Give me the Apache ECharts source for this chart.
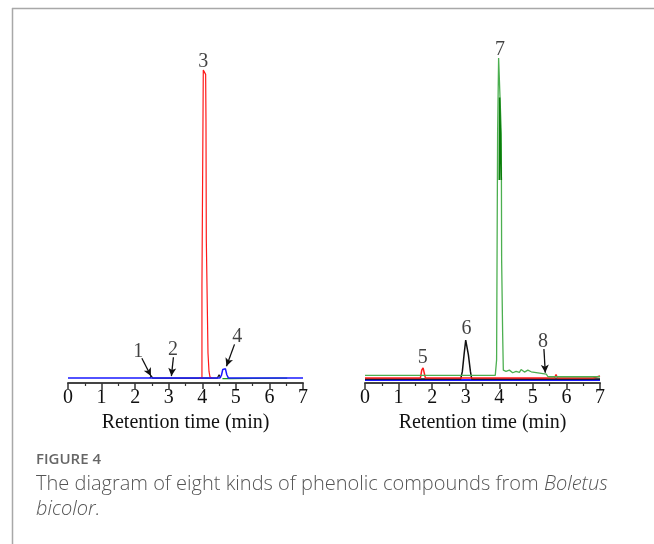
<!DOCTYPE html>
<html>
<head>
<meta charset="utf-8">
<script src="https://cdn.jsdelivr.net/npm/echarts@6/dist/echarts.min.js"></script>
<style>
  html, body { margin: 0; padding: 0; background: #fff; }
  #chart { width: 654px; height: 544px; }
</style>
</head>
<body>
<div id="chart"></div>
<script>
// x ticks (min)
const xTicks = [0, 1, 2, 3, 4, 5, 6, 7];

// left panel traces [time, signal]
const leftBlue = [[0, 0], [4.52, 0], [4.57, 0.8], [4.61, 2.6], [4.65, 3.1], [4.69, 2.8], [4.73, 1], [4.78, 0], [7, 0]];
const leftRed = [[3.9, 0], [3.99, 0], [3.99, 28.2], [4.02, 28.2], [4.03, 93.3], [4.1, 92], [4.11, 78], [4.12, 78], [4.12, 41.8], [4.16, 41.8], [4.17, 7.6], [4.2, 2], [4.23, 0.3], [4.3, 0]];
const leftBlack = [[2.44, 0], [2.48, 0.7], [2.52, 0], [3.05, 0], [3.08, 0.6], [3.11, 0], [4.45, 0], [4.5, 1], [4.55, 0]];
const leftGreen = [[4.6, -0.2], [4.82, -0.2], [6.28, 0], [6.31, 0.6], [6.34, 0], [6.47, 0], [6.5, 0.5], [6.53, 0]];

// right panel traces
const rightBlue = [[0, -0.6], [7, -0.6]];
const rightBlack = [[0, -0.3], [2.85, -0.3], [2.9, 2], [2.95, 7], [3.0, 11.5], [3.03, 11.5], [3.08, 7], [3.14, 2], [3.18, -0.3], [7, -0.3]];
const rightRed = [[0, 0], [1.65, 0], [1.69, 2.4], [1.73, 3.1], [1.77, 2.5], [1.8, 0], [5.65, 0], [5.69, 1.1], [5.73, 0], [6.8, 0], [6.85, 0.6], [7, 0.6]];
const rightGreen = [[0, 0.8], [3.88, 0.8], [3.92, 5.5], [3.95, 74], [3.98, 97], [4.03, 97], [4.06, 74], [4.07, 35.8], [4.1, 13.6], [4.12, 2.4], [4.2, 2], [4.3, 2.4], [4.4, 1.6], [4.5, 2], [4.6, 1.7], [4.65, 2.6], [4.75, 1.8], [4.85, 2.4], [4.95, 1.9], [5.0, 1.3], [5.4, 1.2], [5.45, 0.4], [7, 0.4]];
const rightDarkGreen = [[4.0, 60], [4.01, 85], [4.05, 85], [4.06, 60]];

// peak numbers [x, y, text]
const leftLabels = [[2.09, 7.9, '1'], [3.13, 8.5, '2'], [4.03, 95.8, '3'], [5.04, 12.4, '4']];
const rightLabels = [[1.72, 6.2, '5'], [3.02, 14.8, '6'], [4.02, 99.6, '7'], [5.3, 10.9, '8']];

// arrows [x1, y1, x2, y2]
const leftArrows = [[2.2, 6.0, 2.47, 0.6], [3.14, 6.3, 3.08, 0.6], [4.96, 10.2, 4.72, 3.6]];
const rightArrows = [[5.33, 8.8, 5.37, 1.6]];

const serif = '"Liberation Serif", "Times New Roman", serif';
const sans = '"Open Sans", sans-serif';
const chart = echarts.init(document.getElementById('chart'));

function xAxisFor(idx) {
  return {
    gridIndex: idx, type: 'value', min: 0, max: 7, interval: 1,
    name: 'Retention time (min)', nameLocation: 'middle', nameGap: 27,
    nameTextStyle: { fontFamily: serif, fontSize: 20, color: '#111' },
    axisLine: { onZero: false, lineStyle: { color: '#444', width: 2 } },
    axisTick: { length: 6, lineStyle: { color: '#333', width: 1.5 } },
    minorTick: { show: true, splitNumber: 2, length: 3, lineStyle: { color: '#333', width: 1.2 } },
    axisLabel: { fontFamily: serif, fontSize: 20, color: '#111', margin: 5,
      formatter: v => xTicks.includes(v) ? String(v) : '' },
    splitLine: { show: false }
  };
}
function yAxisFor(idx) {
  return { gridIndex: idx, type: 'value', min: -1.5, max: 100, show: false };
}
function line(idx, data, color, width) {
  return { type: 'line', xAxisIndex: idx, yAxisIndex: idx, data, showSymbol: false,
    symbol: 'none', animation: false, lineStyle: { color, width: width || 1.2 }, z: 3 };
}
function labels(idx, arr) {
  return { type: 'scatter', xAxisIndex: idx, yAxisIndex: idx, symbolSize: 0, animation: false,
    data: arr.map(d => ({ value: [d[0], d[1]], name: d[2] })),
    label: { show: true, position: 'inside', formatter: '{b}', fontFamily: serif, fontSize: 20, color: '#111' },
    z: 5 };
}
function arrows(idx, arr) {
  return { type: 'line', xAxisIndex: idx, yAxisIndex: idx, data: [], animation: false,
    markLine: { silent: true, symbol: ['none', 'arrow'], symbolSize: [6, 8], label: { show: false },
      lineStyle: { color: '#111', width: 1.3, type: 'solid' },
      data: arr.map(a => [{ coord: [a[0], a[1]] }, { coord: [a[2], a[3]] }]) },
    z: 5 };
}

chart.setOption({
  backgroundColor: '#fff',
  animation: false,
  grid: [
    { left: 68, right: 351, top: 48, bottom: 161 },
    { left: 365, right: 54, top: 48, bottom: 161 }
  ],
  xAxis: [xAxisFor(0), xAxisFor(1)],
  yAxis: [yAxisFor(0), yAxisFor(1)],
  series: [
    line(0, leftGreen, '#1a9a1a'),
    line(0, leftBlack, '#111'),
    line(0, leftRed, '#ff1a1a'),
    line(0, leftBlue, '#1a1aff', 1.5),
    labels(0, leftLabels),
    arrows(0, leftArrows),
    line(1, rightBlue, '#1a1aff', 2),
    line(1, rightBlack, '#111', 1.5),
    line(1, rightRed, '#ff1a1a', 1.5),
    line(1, rightGreen, '#4caf50', 1.3),
    line(1, rightDarkGreen, '#0a7d0a', 1.6),
    labels(1, rightLabels),
    arrows(1, rightArrows)
  ],
  graphic: [
    { type: 'line', shape: { x1: 12.5, y1: 8, x2: 12.5, y2: 544 }, style: { stroke: '#a8a8a8', lineWidth: 1.5 } },
    { type: 'line', shape: { x1: 12, y1: 8.5, x2: 654, y2: 8.5 }, style: { stroke: '#a8a8a8', lineWidth: 1.5 } },
    { type: 'text', left: 36, top: 452, style: { text: 'FIGURE 4', fontFamily: sans, fontWeight: 600, fontSize: 15, fill: '#666' } },
    { type: 'text', left: 36, top: 474, style: {
      text: '{a|The diagram of eight kinds of phenolic compounds from }{i|Boletus}',
      rich: {
        a: { fontFamily: sans, fontSize: 20, fill: '#555', fontWeight: 300 },
        i: { fontFamily: sans, fontSize: 20, fill: '#555', fontStyle: 'italic', fontWeight: 300 }
      } } },
    { type: 'text', left: 36, top: 499, style: { text: 'bicolor.', fontFamily: sans, fontSize: 20, fontStyle: 'italic', fontWeight: 300, fill: '#555' } }
  ]
});
</script>
</body>
</html>
